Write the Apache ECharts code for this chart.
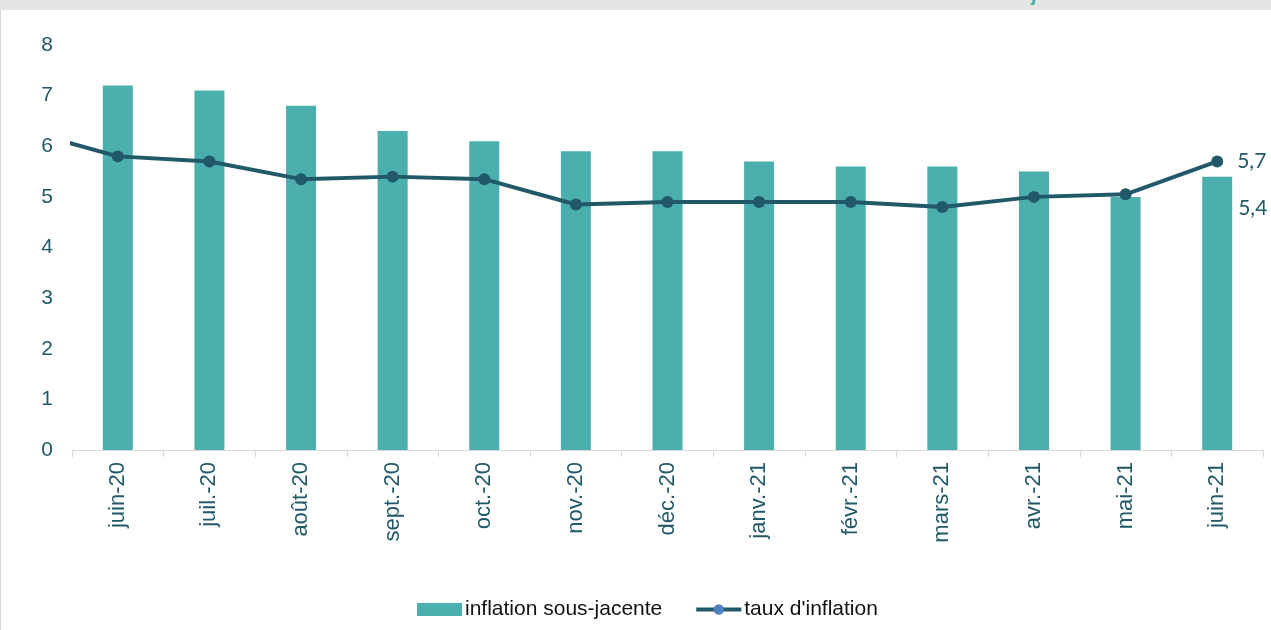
<!DOCTYPE html>
<html>
<head>
<meta charset="utf-8">
<script src="https://cdn.jsdelivr.net/npm/echarts@6/dist/echarts.min.js"></script>
<style>
  html, body { margin: 0; padding: 0; background: #fff; }
  #main { width: 1271px; height: 630px; }
</style>
</head>
<body>
<div id="main"></div>
<script>
// les mois
var mois = ['juin-20', 'juil.-20', 'août-20', 'sept.-20', 'oct.-20', 'nov.-20', 'déc.-20',
            'janv.-21', 'févr.-21', 'mars-21', 'avr.-21', 'mai-21', 'juin-21'];
// inflation sous-jacente (barres)
var sousJacente = [7.2, 7.1, 6.8, 6.3, 6.1, 5.9, 5.9, 5.7, 5.6, 5.6, 5.5, 5.0, 5.4];
// taux d'inflation (ligne) ; le premier point (mai-20) est coupé par le bord gauche
var tauxPrecedent = 6.3;
var taux = [5.8, 5.7, 5.35, 5.4, 5.35, 4.85, 4.9, 4.9, 4.9, 4.8, 5.0, 5.05, 5.7];
var yTicks = [0, 1, 2, 3, 4, 5, 6, 7, 8];

var tealBar = '#4aafad';
var teal = '#215968';

var lineData = [[-1, tauxPrecedent]];
for (var i = 0; i < taux.length; i++) lineData.push([i, taux[i]]);

var barData = sousJacente.map(function (v, i) {
  if (i === sousJacente.length - 1) {
    return {
      value: v,
      label: {
        show: true, position: [36, 21], align: 'left', verticalAlign: 'top',
        formatter: function (p) { return String(p.value).replace('.', ','); },
        color: teal, fontSize: 21, fontFamily: 'Lato'
      }
    };
  }
  return v;
});

var lineSeriesData = lineData.map(function (d, i) {
  if (i === lineData.length - 1) {
    return {
      value: d,
      label: {
        show: true, position: 'right', distance: 14,
        formatter: function (p) { return String(p.value[1]).replace('.', ','); },
        color: teal, fontSize: 21, fontFamily: 'Lato'
      }
    };
  }
  return d;
});

var chart = echarts.init(document.getElementById('main'));
chart.setOption({
  animation: false,
  backgroundColor: '#fff',
  graphic: [
    { type: 'rect', shape: { x: 0, y: 0, width: 1271, height: 10 }, style: { fill: '#e4e4e4' }, z: 10 },
    { type: 'text', left: 1031, top: -15, style: { text: 'j', fill: tealBar, font: 'bold 20px Arial' }, z: 11 },
    { type: 'rect', shape: { x: 0, y: 10, width: 1, height: 620 }, style: { fill: '#d6d6d6' }, z: 10 }
  ],
  grid: { left: 72, right: 8, top: 45, bottom: 180, containLabel: false },
  legend: {
    left: 412, top: 594,
    itemWidth: 45, itemHeight: 13, itemGap: 32,
    textStyle: { color: '#111', fontSize: 21, fontFamily: 'Liberation Sans', padding: [0, 0, 0, -2] },
    data: [
      { name: 'inflation sous-jacente', icon: 'rect' },
      { name: "taux d'inflation", itemStyle: { color: '#4f81bd', borderWidth: 0 }, lineStyle: { color: teal, width: 4 } }
    ]
  },
  xAxis: [
    {
      type: 'category',
      data: mois,
      boundaryGap: true,
      axisLine: { lineStyle: { color: '#d9d9d9', width: 1 } },
      axisTick: { show: true, length: 7, lineStyle: { color: '#d9d9d9' } },
      axisLabel: { rotate: 90, margin: 12, color: teal, fontSize: 22, fontFamily: 'Liberation Sans', interval: 0 }
    },
    {
      type: 'value', min: -0.5, max: mois.length - 0.5, show: false
    }
  ],
  yAxis: {
    type: 'value', min: 0, max: 8, interval: 1,
    axisLine: { show: false }, axisTick: { show: false }, splitLine: { show: false },
    axisLabel: {
      margin: 19, color: teal, fontSize: 21, fontFamily: 'Liberation Sans',
      formatter: function (v) { return yTicks.indexOf(v) >= 0 ? String(v) : ''; }
    }
  },
  series: [
    {
      name: 'inflation sous-jacente',
      type: 'bar',
      xAxisIndex: 0,
      data: barData,
      barWidth: 30,
      itemStyle: { color: tealBar }
    },
    {
      name: "taux d'inflation",
      type: 'line',
      xAxisIndex: 1,
      data: lineSeriesData,
      clip: true,
      symbol: 'circle',
      symbolSize: 12,
      lineStyle: { color: teal, width: 4 },
      itemStyle: { color: teal },
      z: 3
    }
  ]
});
</script>
</body>
</html>
